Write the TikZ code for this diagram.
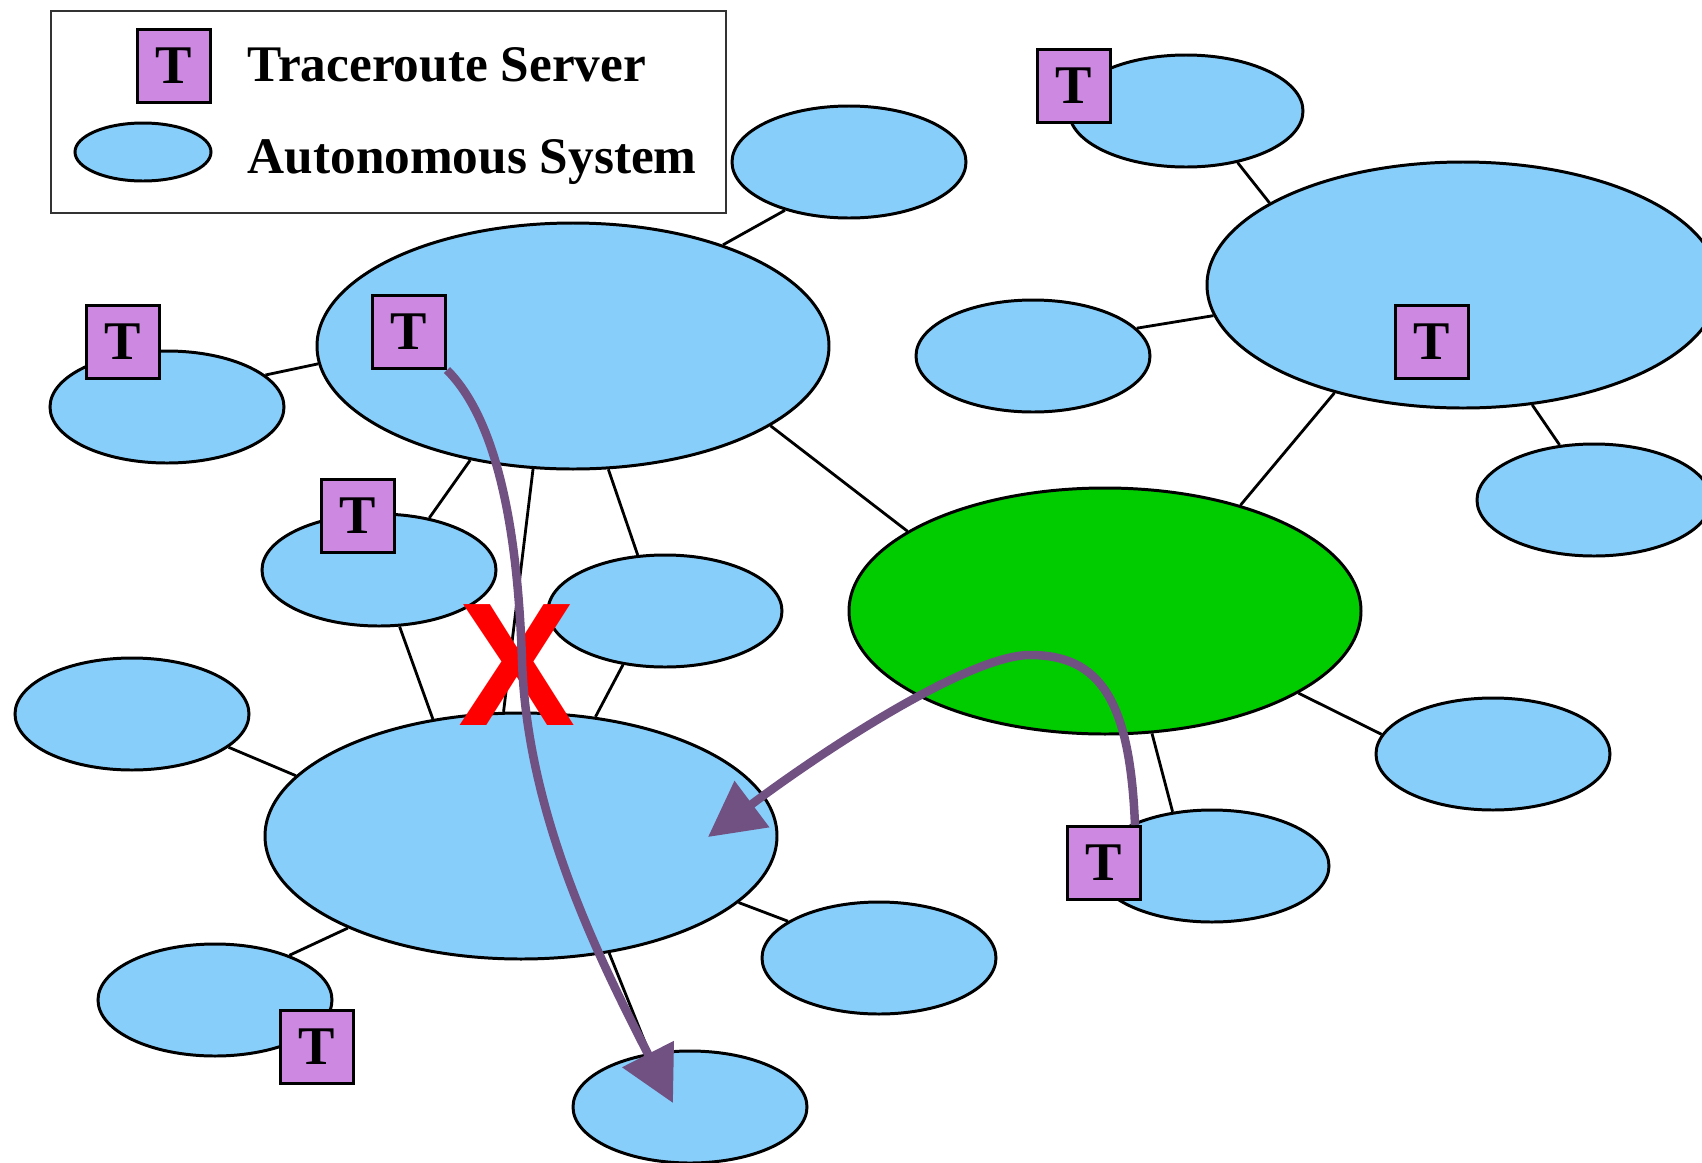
\documentclass[tikz,border=0pt]{standalone}
\usepackage{fontspec}
\setmainfont{Liberation Serif}
\newfontfamily\xsans{Liberation Sans}
\usetikzlibrary{shapes.geometric,arrows.meta}
\definecolor{asblue}{RGB}{135,206,250}
\definecolor{asgreen}{RGB}{0,204,0}
\definecolor{tpink}{RGB}{205,137,225}
\definecolor{tracecol}{RGB}{112,81,130}
\tikzset{
  asys/.style={ellipse,draw,line width=0.85pt,fill=asblue,minimum width=2.34cm,minimum height=1.12cm,inner sep=0pt},
  bigasys/.style={asys,minimum width=5.12cm,minimum height=2.46cm},
  tsrv/.style={draw,line width=0.85pt,fill=tpink,minimum size=0.73cm,inner sep=0pt,font=\fontsize{15.5}{16}\selectfont\bfseries},
  link/.style={line width=0.8pt},
  trace/.style={draw=tracecol,line width=0.085cm,-{Triangle[length=0.55cm,width=0.56cm]}},
  legtext/.style={anchor=base west,inner sep=0pt,font=\fontsize{14.6}{17}\selectfont\bfseries}
}
\begin{document}
\begin{tikzpicture}
  \useasboundingbox (0,0) rectangle (17.02,-11.63);
  \draw[line width=0.6pt,draw=black!80] (0.51,-0.11) rectangle (7.26,-2.13);
  \node[tsrv] (tL) at (1.74,-0.66) {T};
  \node[asys,minimum width=1.36cm,minimum height=0.58cm] (eL) at (1.43,-1.52) {};
  \node[legtext] (lT) at (2.47,-0.81) {Traceroute Server};
  \node[legtext] (lA) at (2.47,-1.73) {Autonomous System};

  \node[asys] (e1) at (8.49,-1.62) {};
  \node[bigasys] (eA) at (5.73,-3.46) {};
  \node[asys] (e3) at (1.67,-4.07) {};
  \node[asys] (e4) at (11.86,-1.11) {};
  \node[bigasys] (e5) at (14.63,-2.85) {};
  \node[asys] (e6) at (10.33,-3.56) {};
  \node[asys] (e7) at (15.94,-5.00) {};
  \node[bigasys,fill=asgreen] (eG) at (11.05,-6.11) {};
  \node[asys] (e9) at (3.79,-5.70) {};
  \node[asys] (e10) at (6.65,-6.11) {};
  \node[asys] (e11) at (1.32,-7.14) {};
  \node[bigasys] (eB) at (5.21,-8.36) {};
  \node[asys] (e13) at (14.93,-7.54) {};
  \node[asys] (e14) at (12.12,-8.66) {};
  \node[asys] (e15) at (8.79,-9.58) {};
  \node[asys] (e16) at (2.15,-10.00) {};
  \node[asys] (e17) at (6.90,-11.07) {};

  \draw[link] (e1.217) -- (eA.34);
  \draw[link] (e3.18) -- (eA.184);
  \draw[link] (e4.315) -- (e5.157);
  \draw[link] (e6.15) -- (e5.187);
  \draw[link] (e5.300) -- (e7.122);
  \draw[link] (e5.220) -- (eG.38);
  \draw[link] (eA.338) -- (eG.158);
  \draw[link] (eA.228) -- (e9.46);
  \draw[link] (eA.252) -- (eB.98);
  \draw[link] (eA.286) -- (e10.116);
  \draw[link] (e9.290) -- (eB.127);
  \draw[link] (e10.232) -- (eB.58);
  \draw[link] (e11.341) -- (eB.165);
  \draw[link] (e16.31) -- (eB.208);
  \draw[link] (eB.343) -- (e15.158);
  \draw[link] (eB.307) -- (e17.127);
  \draw[link] (eG.337) -- (e13.170);
  \draw[link] (eG.291) -- (e14.126);

  \node[tsrv] (t4) at (10.74,-0.86) {T};
  \node[tsrv] (t3) at (1.23,-3.42) {T};
  \node[tsrv] (tA) at (4.09,-3.32) {T};
  \node[tsrv] (t9) at (3.58,-5.16) {T};
  \node[tsrv] (t5) at (14.32,-3.42) {T};
  \node[tsrv] (tG) at (11.04,-8.63) {T};
  \node[tsrv] (t16) at (3.17,-10.47) {T};

  \node[text=red,inner sep=0pt,font=\xsans\fontsize{50}{51}\selectfont\bfseries] (cut) at (5.17,-6.65) {X};

  \coordinate (endB) at (7.08,-8.37);
  \coordinate (end17) at (6.73,-11.03);
  \draw[trace] (tA.south east) .. controls (5.00,-4.23) and (5.18,-5.40) .. (5.22,-6.60)
    .. controls (5.27,-8.16) and (6.00,-9.60) .. (end17);
  \draw[trace] ([xshift=-0.7mm]tG.north east) .. controls (11.30,-7.00) and (11.00,-6.55) .. (10.30,-6.55)
    .. controls (9.70,-6.55) and (8.28,-7.47) .. (endB);
\end{tikzpicture}
\end{document}
